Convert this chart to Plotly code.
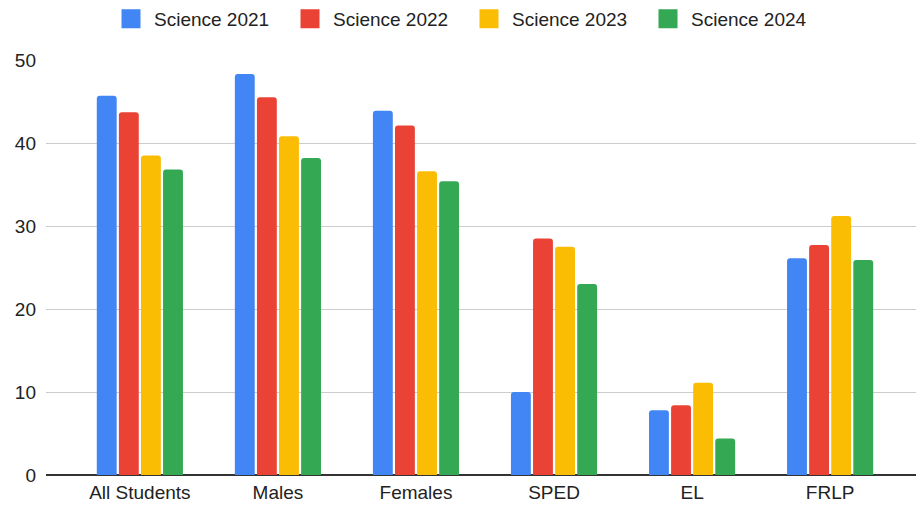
import plotly.graph_objects as go

categories = ["All Students", "Males", "Females", "SPED", "EL", "FRLP"]
series_names = ["Science 2021", "Science 2022", "Science 2023", "Science 2024"]
sci_2021 = [45.7, 48.3, 43.9, 10.0, 7.8, 26.1]
sci_2022 = [43.7, 45.5, 42.1, 28.5, 8.4, 27.7]
sci_2023 = [38.5, 40.8, 36.6, 27.5, 11.1, 31.2]
sci_2024 = [36.8, 38.2, 35.4, 23.0, 4.4, 25.9]
colors = ["#4285F4", "#EA4335", "#FBBC04", "#34A853"]
y_ticks = [0, 10, 20, 30, 40, 50]

fig = go.Figure()
for name, vals, col in zip(series_names, [sci_2021, sci_2022, sci_2023, sci_2024], colors):
    fig.add_trace(go.Bar(x=categories, y=vals, name=name, marker_color=col,
                         marker_line_width=0, showlegend=False, legendgroup=name))
# legend entries with larger square swatches
for name, col in zip(series_names, colors):
    fig.add_trace(go.Scatter(x=[None], y=[None], mode="markers", name=name,
                             legendgroup=name,
                             marker=dict(symbol="square", size=16, color=col,
                                         line=dict(color=col, width=3))))

font_family = "Liberation Sans, Arial, sans-serif"
fig.update_layout(
    width=916, height=501,
    margin=dict(l=38, r=0, t=52, b=34),
    paper_bgcolor="white", plot_bgcolor="white",
    barmode="group", bargap=0.36, bargroupgap=0.1, barcornerradius=3,
    font=dict(family=font_family, size=19, color="#222222"),
    legend=dict(orientation="h", xref="container", yref="container",
                x=0.5, xanchor="center", y=0.978, yanchor="middle",
                font=dict(size=19, color="#222222"), itemsizing="trace",
                itemwidth=36, entrywidth=128, entrywidthmode="pixels"),
    xaxis=dict(range=[-0.68, 5.68], showgrid=False, ticks="",
               tickfont=dict(size=19, color="#222222"),
               showline=False, zeroline=False, ticklabelstandoff=4),
    yaxis=dict(range=[0, 50], tickvals=y_ticks, showgrid=True,
               gridcolor="#cccccc", gridwidth=1, zeroline=True,
               zerolinecolor="#333333", zerolinewidth=1.5,
               tickfont=dict(size=19, color="#222222"), ticks="",
               ticklabelstandoff=9),
)
fig.write_html("out.html")
